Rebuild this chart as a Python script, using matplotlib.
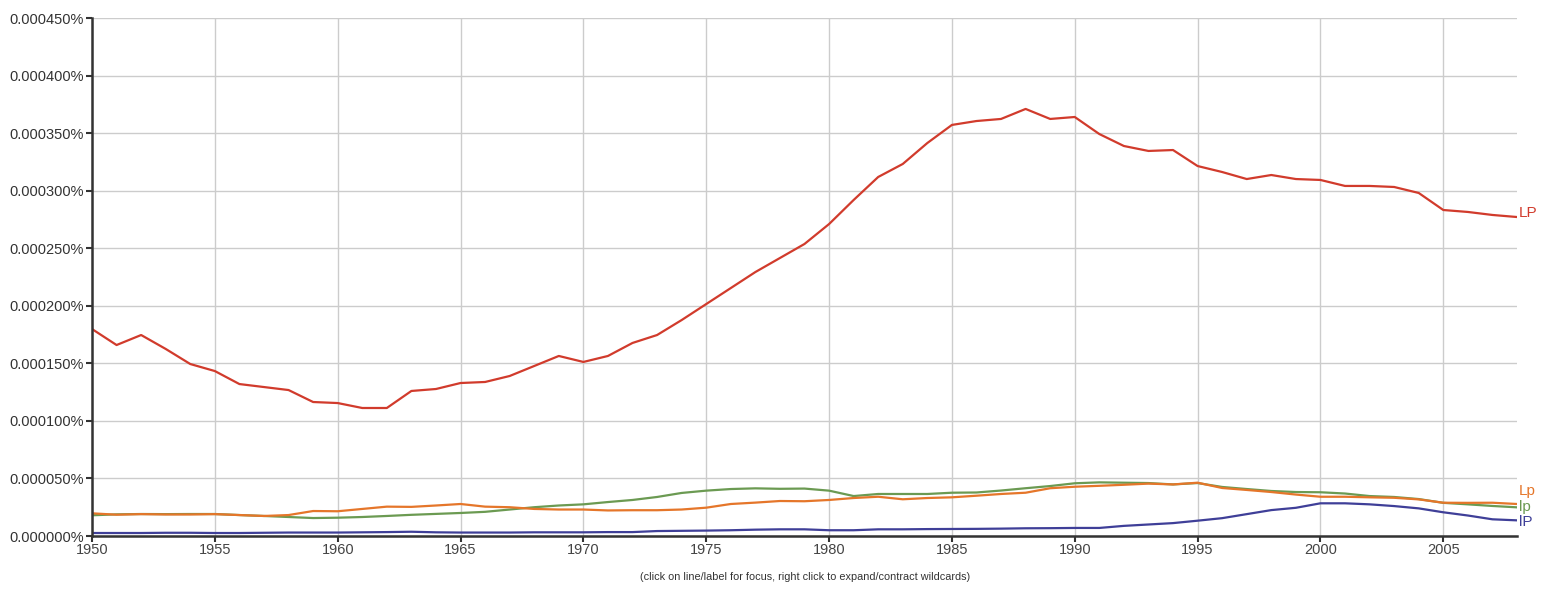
import matplotlib.pyplot as plt
from matplotlib.ticker import FuncFormatter, MultipleLocator
import numpy as np

plt.rcParams['font.family'] = ['Liberation Sans', 'DejaVu Sans']

years = np.arange(1950, 2009)

# values in percent
LP = [0.0001798, 0.0001659, 0.0001746, 0.0001625, 0.0001494, 0.0001433, 0.0001320, 0.0001294, 0.0001268, 0.0001164,
      0.0001155, 0.0001112, 0.0001112, 0.0001260, 0.0001277, 0.0001329, 0.0001338, 0.0001390, 0.0001477, 0.0001564,
      0.0001512, 0.0001564, 0.0001677, 0.0001746, 0.0001876, 0.0002015, 0.0002154, 0.0002293, 0.0002415, 0.0002537,
      0.0002710, 0.0002919, 0.0003119, 0.0003232, 0.0003414, 0.0003571, 0.0003605, 0.0003623, 0.0003710, 0.0003623,
      0.0003640, 0.0003492, 0.0003388, 0.0003345, 0.0003353, 0.0003214, 0.0003162, 0.0003101, 0.0003136, 0.0003101,
      0.0003093, 0.0003041, 0.0003041, 0.0003032, 0.0002980, 0.0002832, 0.0002815, 0.0002789, 0.0002771]

Lp = [0.0000197, 0.0000185, 0.0000190, 0.0000187, 0.0000187, 0.0000190, 0.0000182, 0.0000174, 0.0000182, 0.0000217,
      0.0000215, 0.0000235, 0.0000255, 0.0000253, 0.0000265, 0.0000278, 0.0000255, 0.0000250, 0.0000235, 0.0000230,
      0.0000230, 0.0000222, 0.0000224, 0.0000224, 0.0000230, 0.0000246, 0.0000278, 0.0000290, 0.0000304, 0.0000302,
      0.0000313, 0.0000330, 0.0000341, 0.0000319, 0.0000330, 0.0000336, 0.0000350, 0.0000365, 0.0000376, 0.0000415,
      0.0000428, 0.0000436, 0.0000445, 0.0000455, 0.0000448, 0.0000463, 0.0000417, 0.0000400, 0.0000382, 0.0000360,
      0.0000341, 0.0000341, 0.0000336, 0.0000332, 0.0000318, 0.0000289, 0.0000288, 0.0000289, 0.0000278]

lp = [0.0000180, 0.0000188, 0.0000191, 0.0000190, 0.0000191, 0.0000191, 0.0000182, 0.0000174, 0.0000165, 0.0000156,
      0.0000159, 0.0000165, 0.0000174, 0.0000184, 0.0000192, 0.0000200, 0.0000210, 0.0000230, 0.0000250, 0.0000265,
      0.0000275, 0.0000295, 0.0000313, 0.0000339, 0.0000374, 0.0000394, 0.0000408, 0.0000414, 0.0000410, 0.0000412,
      0.0000394, 0.0000347, 0.0000365, 0.0000365, 0.0000365, 0.0000376, 0.0000378, 0.0000395, 0.0000415, 0.0000434,
      0.0000458, 0.0000466, 0.0000463, 0.0000460, 0.0000448, 0.0000460, 0.0000426, 0.0000408, 0.0000391, 0.0000382,
      0.0000380, 0.0000369, 0.0000347, 0.0000339, 0.0000321, 0.0000288, 0.0000275, 0.0000261, 0.0000249]

lP = [0.0000026, 0.0000026, 0.0000026, 0.0000028, 0.0000028, 0.0000026, 0.0000026, 0.0000028, 0.0000030, 0.0000030,
      0.0000030, 0.0000032, 0.0000034, 0.0000037, 0.0000032, 0.0000030, 0.0000030, 0.0000030, 0.0000032, 0.0000032,
      0.0000032, 0.0000034, 0.0000034, 0.0000043, 0.0000045, 0.0000047, 0.0000050, 0.0000055, 0.0000058, 0.0000058,
      0.0000050, 0.0000050, 0.0000058, 0.0000058, 0.0000060, 0.0000061, 0.0000062, 0.0000064, 0.0000067, 0.0000068,
      0.0000070, 0.0000070, 0.0000088, 0.0000100, 0.0000112, 0.0000133, 0.0000155, 0.0000190, 0.0000225, 0.0000245,
      0.0000284, 0.0000284, 0.0000275, 0.0000260, 0.0000240, 0.0000206, 0.0000178, 0.0000145, 0.0000136]

series = [("LP", LP, "#d13b2c"), ("lp", lp, "#6b9a52"), ("Lp", Lp, "#e5762a"), ("lP", lP, "#3f3f98")]
# label offsets in points so end labels don't overlap
label_dy = {"LP": 3, "Lp": 9, "lp": 0, "lP": -1}

fig = plt.figure(figsize=(15.58, 6.01), dpi=100)
ax = fig.add_axes([92/1558, 65/601, (1517-92)/1558, (536-18)/601])

for name, vals, col in series:
    ax.plot(years, vals, color=col, lw=1.6, solid_joinstyle='round')
    ax.annotate(name, (years[-1], vals[-1]), xytext=(1.5, label_dy[name]), textcoords='offset points',
                color=col, fontsize=11, va='center', ha='left', annotation_clip=False)

ax.set_xlim(1950, 2008)
ax.set_ylim(0, 0.00045)
ax.xaxis.set_major_locator(MultipleLocator(5))
ax.yaxis.set_major_locator(MultipleLocator(0.00005))
ax.yaxis.set_major_formatter(FuncFormatter(lambda v, p: f"{v:.6f}%"))

ax.grid(True, color='#cccccc', lw=1)
ax.set_axisbelow(True)
for s in ['top', 'right']:
    ax.spines[s].set_visible(False)
for s in ['left', 'bottom']:
    ax.spines[s].set_color('#333333')
    ax.spines[s].set_linewidth(1.8)
ax.tick_params(colors='#333333', labelsize=10.5, length=4, width=1.5, pad=2)
ax.tick_params(axis='x', labelcolor='#444444', pad=1)

fig.text(805/1558, 1 - 577/601, "(click on line/label for focus, right click to expand/contract wildcards)",
         ha='center', va='center', fontsize=7.8, color='#333333')

fig.savefig("out.png", dpi=100)
